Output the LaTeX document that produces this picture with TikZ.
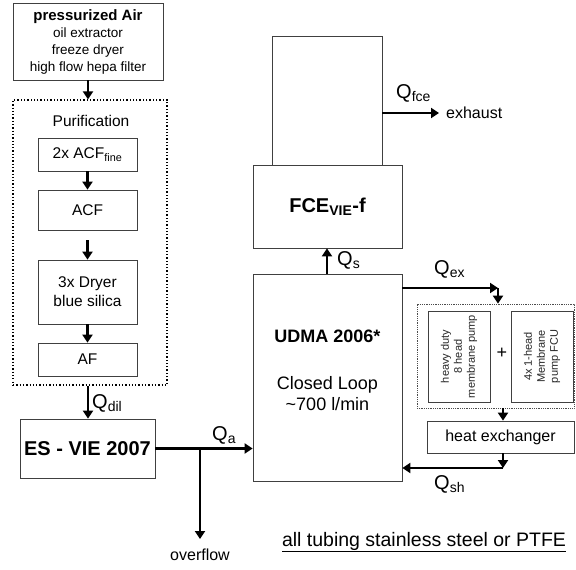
\documentclass[tikz,border=0pt]{standalone}
\usepackage{fontspec}
\setmainfont{Liberation Sans}
\usetikzlibrary{arrows.meta}
\begin{document}
\begin{tikzpicture}[x=1pt,y=-1pt,
  box/.style={draw=black!75, line width=0.8pt, fill=white, inner sep=0pt, align=center},
  dotbox/.style={draw=black, line width=1.3pt, dotted, inner sep=0pt},
  finedot/.style={draw=black!70, line width=0.8pt, densely dotted, inner sep=0pt},
  flow/.style={line width=2.8pt, -{Triangle[length=8pt,width=10pt]}},
  lbl/.style={inner sep=0pt, font=\fontsize{20}{22}\selectfont},
  txt/.style={inner sep=0pt, font=\fontsize{16}{18}\selectfont}
]
\useasboundingbox (0,0) rectangle (576,570);

% left column
\node[box, minimum width=150pt, minimum height=77pt, font=\fontsize{13.5}{17}\selectfont] (air) at (88,41.5)
  {{\bfseries\fontsize{15}{17}\selectfont pressurized Air}\\
   oil extractor\\
   freeze dryer\\
   high flow hepa filter};
\node[dotbox, minimum width=154pt, minimum height=285pt] (purif) at (90,242.5) {};
\node[txt, font=\fontsize{15.5}{18}\selectfont] (purlbl) at (91,121) {Purification};
\node[box, minimum width=99pt, minimum height=33pt, font=\fontsize{15.5}{18}\selectfont] (acffine) at (87.5,154.5) {2x ACF\textsubscript{fine}};
\node[box, minimum width=99pt, minimum height=40pt, font=\fontsize{15.5}{18}\selectfont] (acf) at (87.5,210) {ACF};
\node[box, minimum width=99pt, minimum height=64pt, font=\fontsize{15.5}{19}\selectfont] (dryer) at (87.5,292) {3x Dryer\\blue silica};
\node[box, minimum width=99pt, minimum height=33pt, font=\fontsize{15.5}{18}\selectfont] (af) at (87.5,359.5) {AF};
\node[box, minimum width=135pt, minimum height=59pt, font=\bfseries\fontsize{20}{22}\selectfont] (es) at (87.5,448.5) {ES - VIE 2007};

% center column
\node[box, minimum width=110pt, minimum height=129pt] (top) at (327,100.5) {};
\node[box, minimum width=149pt, minimum height=83pt, font=\bfseries\fontsize{20}{22}\selectfont] (fce) at (327.5,206.5) {FCE\textsubscript{VIE}-f};
\node[box, minimum width=149pt, minimum height=207pt] (udma) at (327.5,377.5) {};
\node[inner sep=0pt, align=center, font=\fontsize{18}{21}\selectfont] (udmatxt) at (327.5,370.5)
  {{\bfseries UDMA 2006*}\\[26pt]
   Closed Loop\\
   \textasciitilde700 l/min};

% right group
\node[finedot, minimum width=157pt, minimum height=104pt] (pumps) at (495.5,356) {};
\node[box, minimum width=62pt, minimum height=91pt] (pump1) at (459,356.5) {};
\node[inner sep=0pt, rotate=90, align=center, text=black!85, font=\fontsize{11}{13}\selectfont] (p1txt) at (459,356.5) {heavy duty\\8 head\\membrane pump};
\node[box, minimum width=62pt, minimum height=91pt] (pump2) at (542,356.5) {};
\node[inner sep=0pt, rotate=90, align=center, text=black!85, font=\fontsize{11}{13}\selectfont] (p2txt) at (542,356.5) {4x 1-head\\Membrane\\pump FCU};
\node[inner sep=0pt, font=\fontsize{18}{20}\selectfont] (plus) at (502,353) {+};
\node[box, minimum width=147pt, minimum height=32pt, font=\fontsize{16}{18}\selectfont] (hx) at (500.5,437) {heat exchanger};

% coordinates
\coordinate (split) at (200,449);
\coordinate (ovend) at (200,539);
\coordinate (exend) at (439,113);
\coordinate (excorner) at (498,288);
\coordinate (shcorner) at (503,468);

% arrows left
\draw[flow] (air.south -| 88,0) -- (purif.north -| 88,0);
\draw[flow] (acffine.south) -- (acf.north);
\draw[flow, shorten <=10pt] (acf.south) -- (dryer.north);
\draw[flow] (dryer.south) -- (af.north);
\draw[flow] (purif.south -| 88,0) -- (es.north -| 88,0);
\node[lbl, anchor=west] (qdil) at (92,403) {Q\textsubscript{dil}};

\draw[flow] (es.east) -- (udma.west |- es.east);
\draw[flow] (split) -- (ovend);
\node[txt] (ovl) at (200,555) {overflow};
\node[lbl, anchor=west] (qa) at (212,435) {Q\textsubscript{a}};

% arrows center
\draw[flow] (udma.north -| 327,0) -- (fce.south -| 327,0);
\node[lbl, anchor=west] (qs) at (337,260) {Q\textsubscript{s}};
\draw[flow] (top.east |- exend) -- (exend);
\node[txt, anchor=west] (exh) at (446,113) {exhaust};
\node[lbl, anchor=west] (qfce) at (396,93) {Q\textsubscript{fce}};

% arrows right
\draw[flow] (udma.east |- excorner) -- (excorner);
\draw[flow] (excorner) -- (pumps.north -| excorner);
\node[lbl, anchor=west] (qex) at (434,269) {Q\textsubscript{ex}};
\draw[flow] (pumps.south -| 503,0) -- (hx.north -| 503,0);
\draw[flow] (hx.south -| shcorner) -- (shcorner);
\draw[flow] (shcorner) -- (udma.east |- shcorner);
\node[lbl, anchor=west] (qsh) at (434,484) {Q\textsubscript{sh}};

\node[inner sep=0pt, font=\fontsize{19.5}{22}\selectfont] (note) at (424,542) {\underline{all tubing stainless steel or PTFE}};
\end{tikzpicture}
\end{document}
